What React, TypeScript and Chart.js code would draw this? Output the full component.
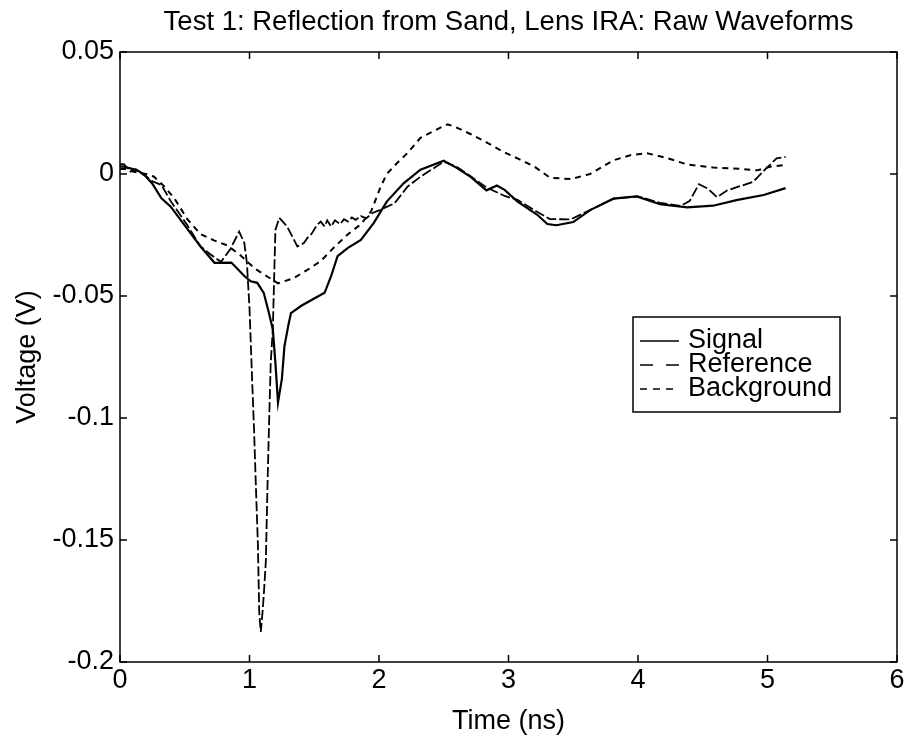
import React, { useEffect, useRef } from "react";
import { Chart, registerables } from "chart.js";

Chart.register(...registerables);

const titleText = "Test 1: Reflection from Sand, Lens IRA: Raw Waveforms";
const xAxisLabel = "Time (ns)";
const yAxisLabel = "Voltage (V)";
const seriesNames = ["Signal", "Reference", "Background"];

const xTickValues = [0, 1, 2, 3, 4, 5, 6];
const yTickValues = [-0.2, -0.15, -0.1, -0.05, 0, 0.05];

const signalTime = [0, 0.03, 0.1, 0.15, 0.2, 0.25, 0.32, 0.39, 0.52, 0.62, 0.73, 0.86, 0.96, 1.01, 1.06, 1.11, 1.15, 1.18, 1.2, 1.22, 1.25, 1.27, 1.3, 1.32, 1.4, 1.5, 1.58, 1.63, 1.68, 1.76, 1.86, 1.96, 2.06, 2.19, 2.32, 2.5, 2.6, 2.71, 2.83, 2.91, 2.97, 3.07, 3.22, 3.3, 3.37, 3.5, 3.63, 3.81, 3.99, 4.17, 4.38, 4.58, 4.76, 4.97, 5.14];
const signalVolt = [0.003, 0.003, 0.002, 0.001, -0.001, -0.004, -0.01, -0.0133, -0.0225, -0.0296, -0.0364, -0.0363, -0.0418, -0.044, -0.0446, -0.0487, -0.057, -0.0637, -0.0773, -0.0937, -0.084, -0.0705, -0.062, -0.057, -0.054, -0.051, -0.0487, -0.0419, -0.0337, -0.0303, -0.027, -0.02, -0.0113, -0.0038, 0.0018, 0.0054, 0.0025, -0.0013, -0.0067, -0.0047, -0.0065, -0.0113, -0.0166, -0.0205, -0.021, -0.0197, -0.0148, -0.0101, -0.0092, -0.0124, -0.0137, -0.013, -0.0107, -0.0086, -0.0058];

const referenceTime = [0, 0.03, 0.08, 0.12, 0.18, 0.25, 0.32, 0.39, 0.52, 0.62, 0.7, 0.78, 0.85, 0.92, 0.96, 0.98, 1.0, 1.02, 1.035, 1.05, 1.065, 1.075, 1.087, 1.1, 1.11, 1.126, 1.139, 1.15, 1.164, 1.18, 1.19, 1.2, 1.23, 1.29, 1.37, 1.42, 1.45, 1.48, 1.52, 1.55, 1.58, 1.6, 1.63, 1.66, 1.7, 1.73, 1.76, 1.79, 1.82, 1.86, 1.9, 1.95, 2.01, 2.12, 2.22, 2.32, 2.5, 2.6, 2.71, 2.83, 2.97, 3.07, 3.22, 3.32, 3.48, 3.63, 3.81, 4.0, 4.17, 4.33, 4.4, 4.47, 4.54, 4.61, 4.69, 4.89, 4.99, 5.07, 5.14];
const referenceVolt = [0.004, 0.004, 0.001, 0.002, 0.0, -0.003, -0.0045, -0.011, -0.021, -0.0296, -0.033, -0.036, -0.031, -0.0236, -0.0283, -0.0365, -0.055, -0.084, -0.1046, -0.129, -0.152, -0.1795, -0.1877, -0.18, -0.1727, -0.159, -0.1277, -0.1046, -0.0773, -0.0637, -0.0433, -0.0229, -0.018, -0.0215, -0.0297, -0.0283, -0.026, -0.0245, -0.021, -0.0195, -0.0215, -0.019, -0.0215, -0.019, -0.0205, -0.0185, -0.0195, -0.0178, -0.0188, -0.0172, -0.0182, -0.016, -0.0147, -0.012, -0.0052, -0.0011, 0.005, 0.003, -0.001, -0.0055, -0.009, -0.0106, -0.0155, -0.0185, -0.0186, -0.0148, -0.0101, -0.0092, -0.0118, -0.0131, -0.011, -0.0042, -0.006, -0.0095, -0.0067, -0.0032, 0.0023, 0.0064, 0.007];

const backgroundTime = [0, 0.05, 0.1, 0.15, 0.2, 0.26, 0.34, 0.42, 0.52, 0.62, 0.73, 0.83, 0.93, 1.04, 1.14, 1.22, 1.34, 1.45, 1.55, 1.65, 1.76, 1.86, 1.94, 2.01, 2.06, 2.14, 2.22, 2.32, 2.42, 2.53, 2.6, 2.71, 2.83, 2.96, 3.09, 3.2, 3.32, 3.48, 3.63, 3.81, 3.94, 4.07, 4.22, 4.38, 4.58, 4.79, 4.92, 5.02, 5.14];
const backgroundVolt = [0.002, 0.002, 0.001, 0.0005, 0.0, -0.001, -0.005, -0.01, -0.0185, -0.0246, -0.0273, -0.0293, -0.0333, -0.0387, -0.0421, -0.0448, -0.0427, -0.0392, -0.0357, -0.0302, -0.0247, -0.0206, -0.0152, -0.0056, 0.0, 0.0045, 0.0086, 0.0148, 0.0176, 0.0204, 0.019, 0.0163, 0.013, 0.0091, 0.0059, 0.003, -0.0015, -0.0021, 0.0, 0.0056, 0.0077, 0.0085, 0.0066, 0.0039, 0.0027, 0.0021, 0.0015, 0.003, 0.0037];

const FONT = "'Liberation Sans', Arial, Helvetica, sans-serif";

function toPoints(t: number[], v: number[]) {
  return t.map((x, i) => ({ x, y: v[i] }));
}

const legendDashes = [[], [13, 13], [7, 6]];

const framePlugin = {
  id: "matlabFrame",
  afterDraw(chart: any) {
    const { ctx, chartArea } = chart;
    const { left, right, top, bottom } = chartArea;
    const xs = chart.scales.x;
    const ys = chart.scales.y;
    ctx.save();
    ctx.strokeStyle = "#000";
    ctx.lineWidth = 1.5;
    ctx.setLineDash([]);
    ctx.strokeRect(left, top, right - left, bottom - top);
    const tl = 7;
    ctx.beginPath();
    xTickValues.forEach((v) => {
      const px = xs.getPixelForValue(v);
      ctx.moveTo(px, bottom);
      ctx.lineTo(px, bottom - tl);
      ctx.moveTo(px, top);
      ctx.lineTo(px, top + tl);
    });
    yTickValues.forEach((v) => {
      const py = ys.getPixelForValue(v);
      ctx.moveTo(left, py);
      ctx.lineTo(left + tl, py);
      ctx.moveTo(right, py);
      ctx.lineTo(right - tl, py);
    });
    ctx.stroke();

    // legend box
    const bx = 633, by = 317, bw = 207, bh = 95;
    ctx.fillStyle = "#fff";
    ctx.fillRect(bx, by, bw, bh);
    ctx.lineWidth = 1.5;
    ctx.strokeRect(bx, by, bw, bh);
    ctx.font = `27px ${FONT}`;
    ctx.textBaseline = "middle";
    ctx.textAlign = "left";
    ctx.fillStyle = "#000";
    seriesNames.forEach((name, i) => {
      const y = by + 24 + i * 24;
      ctx.beginPath();
      ctx.setLineDash(legendDashes[i]);
      ctx.lineWidth = 1.5;
      ctx.moveTo(bx + 7, y);
      ctx.lineTo(bx + 46, y);
      ctx.stroke();
      ctx.setLineDash([]);
      ctx.fillText(name, bx + 55, y);
    });
    ctx.restore();
  },
};

export default function App() {
  const ref = useRef<HTMLCanvasElement | null>(null);
  useEffect(() => {
    document.body.style.margin = "0";
    const canvas = ref.current;
    if (!canvas) return;
    const chart = new Chart(canvas, {
      type: "line",
      data: {
        datasets: [
          {
            label: seriesNames[0],
            data: toPoints(signalTime, signalVolt),
            borderColor: "#000",
            borderWidth: 2.2,
            pointRadius: 0,
            tension: 0,
          },
          {
            label: seriesNames[1],
            data: toPoints(referenceTime, referenceVolt),
            borderColor: "#000",
            borderWidth: 1.8,
            borderDash: [10, 3],
            pointRadius: 0,
            tension: 0,
          },
          {
            label: seriesNames[2],
            data: toPoints(backgroundTime, backgroundVolt),
            borderColor: "#000",
            borderWidth: 2,
            borderDash: [6, 5],
            pointRadius: 0,
            tension: 0,
          },
        ],
      },
      options: {
        responsive: false,
        animation: false,
        parsing: true,
        layout: { padding: { top: 0, right: 14, left: 0, bottom: 0 } },
        plugins: {
          legend: { display: false },
          tooltip: { enabled: false },
          title: {
            display: true,
            text: titleText,
            fullSize: false,
            color: "#000",
            font: { size: 27.5, family: FONT, weight: "normal", lineHeight: 1.2 },
            padding: { top: 6, bottom: 13 },
          },
        },
        scales: {
          x: {
            type: "linear",
            min: 0,
            max: 6,
            afterFit: (s: any) => {
              s.height = 83;
            },
            afterBuildTicks: (s: any) => {
              s.ticks = xTickValues.map((v) => ({ value: v }));
            },
            ticks: {
              color: "#000",
              font: { size: 27, family: FONT },
              padding: 2,
              maxRotation: 0,
              autoSkip: false,
              callback: (v: any) => String(v),
            },
            grid: { display: false, drawTicks: false },
            border: { display: false },
            title: {
              display: true,
              text: xAxisLabel,
              color: "#000",
              font: { size: 27, family: FONT, lineHeight: 1.2 },
              padding: { top: 0, bottom: 7 },
            },
          },
          y: {
            type: "linear",
            min: -0.2,
            max: 0.05,
            afterFit: (s: any) => {
              s.width = 120;
            },
            afterBuildTicks: (s: any) => {
              s.ticks = yTickValues.map((v) => ({ value: v }));
            },
            ticks: {
              color: "#000",
              font: { size: 27, family: FONT },
              padding: 6,
              autoSkip: false,
              callback: (v: any) => String(parseFloat(Number(v).toFixed(2))),
            },
            grid: { display: false, drawTicks: false },
            border: { display: false },
            title: {
              display: true,
              text: yAxisLabel,
              color: "#000",
              font: { size: 27, family: FONT, lineHeight: 1.2 },
              padding: { top: 11, bottom: 0 },
            },
          },
        },
      } as any,
      plugins: [framePlugin],
    });
    return () => chart.destroy();
  }, []);
  return (
    <div style={{ width: 911, height: 745 }}>
      <canvas ref={ref} width={911} height={745} style={{ width: 911, height: 745, display: "block" }} />
    </div>
  );
}
